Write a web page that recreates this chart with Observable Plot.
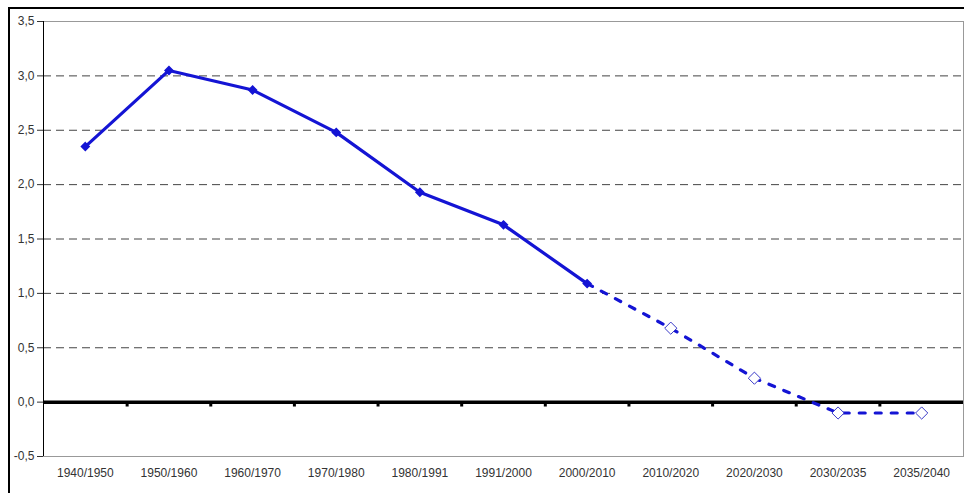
<!DOCTYPE html>
<html>
<head>
<meta charset="utf-8">
<script src="https://cdn.jsdelivr.net/npm/d3@7"></script>
<script src="https://cdn.jsdelivr.net/npm/@observablehq/plot@0.6"></script>
<style>
  html, body { margin: 0; padding: 0; background: #fff; }
  #wrap { position: relative; width: 964px; height: 493px; }
  #border { position: absolute; left: 8px; top: 7px; right: 0; bottom: 0;
            border-top: 2px solid #000; border-left: 2px solid #000; pointer-events: none; }
</style>
</head>
<body>
<div id="wrap"><div id="border"></div></div>
<script>
const categories = ["1940/1950","1950/1960","1960/1970","1970/1980","1980/1991","1991/2000","2000/2010","2010/2020","2020/2030","2030/2035","2035/2040"];
const values = [2.35, 3.05, 2.87, 2.48, 1.93, 1.63, 1.09, 0.68, 0.22, -0.10, -0.10];
const lastActualIndex = 6;
const yTicks = [-0.5, 0, 0.5, 1, 1.5, 2, 2.5, 3, 3.5];
const gridValues = [0.5, 1, 1.5, 2, 2.5, 3];

const points = categories.map((c, i) => ({i, c, v: values[i]}));
const actual = points.slice(0, lastActualIndex + 1);
const projection = points.slice(lastActualIndex);
const projMarkers = points.slice(lastActualIndex + 1);
const indices = points.map(d => d.i);
const boundaries = indices.slice(0, -1).map(i => i + 0.5);

const blue = "#1414d4";
const fmt = d => d.toFixed(1).replace(".", ",");

const chart = Plot.plot({
  width: 964,
  height: 493,
  marginLeft: 43,
  marginRight: 1,
  marginTop: 21,
  marginBottom: 37,
  style: {fontFamily: "'Liberation Sans', Arial, sans-serif", fontSize: "12px", color: "#222", background: "transparent"},
  x: {domain: [-0.5, categories.length - 0.5], axis: null, label: null},
  y: {domain: [-0.5, 3.5], axis: null, label: null},
  marks: [
    Plot.ruleY(gridValues, {stroke: "#444", strokeDasharray: "8,5", strokeWidth: 1}),
    Plot.frame({stroke: "#999"}),
    Plot.ruleX([-0.5], {stroke: "#000", strokeWidth: 1}),
    Plot.ruleY([0], {stroke: "#000", strokeWidth: 3.5}),
    Plot.ruleX(boundaries, {y1: 0, y2: -0.045, stroke: "#000", strokeWidth: 3}),
    Plot.line(actual, {x: "i", y: "v", stroke: blue, strokeWidth: 3.2}),
    Plot.line(projection, {x: "i", y: "v", stroke: blue, strokeWidth: 3.2, strokeDasharray: "6,10"}),
    Plot.dot(actual, {x: "i", y: "v", symbol: "diamond2", r: 3.5, fill: blue, stroke: blue}),
    Plot.dot(projMarkers, {x: "i", y: "v", symbol: "diamond2", r: 5.5, fill: "white", stroke: "#3a3ac8", strokeWidth: 1}),
    Plot.axisY(yTicks, {tickSize: 6, tickPadding: 3, tickFormat: fmt, stroke: "#333", fill: "#333", fontSize: 12, label: null}),
    Plot.axisX(indices, {tickSize: 0, tickPadding: 12, tickFormat: i => categories[i], fill: "#333", fontSize: 12, label: null})
  ]
});
document.getElementById("wrap").prepend(chart);
</script>
</body>
</html>
